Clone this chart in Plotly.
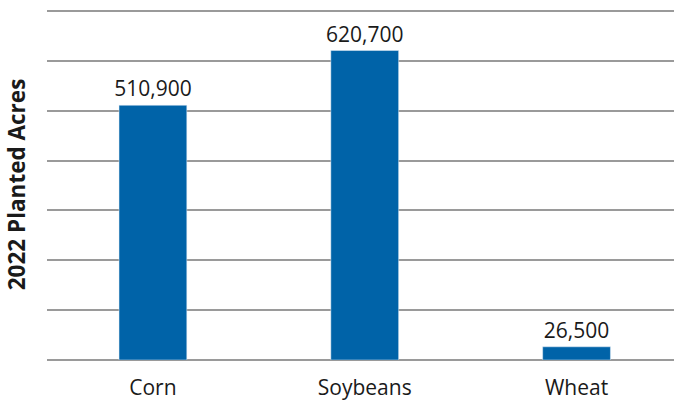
import plotly.graph_objects as go

crops = ["Corn", "Soybeans", "Wheat"]
acres = [510900, 620700, 26500]

fig = go.Figure(go.Bar(
    x=crops,
    y=acres,
    marker=dict(color="#0063a8"),
    width=0.32,
    text=[f"{v:,}" for v in acres],
    textposition="outside",
    constraintext="none",
    textfont=dict(size=21, color="#1a1a1a"),
    cliponaxis=False,
))

fig.update_layout(
    width=674, height=401,
    margin=dict(l=47, r=0, t=9, b=41),
    paper_bgcolor="white",
    plot_bgcolor="white",
    font=dict(family="Open Sans, Noto Sans, sans-serif", color="#1a1a1a"),
    showlegend=False,
)
fig.update_xaxes(
    automargin=False,
    range=[-0.5, 2.46],  # chart is cropped on the right in the original
    tickfont=dict(size=21),
    ticks="outside", ticklen=9, tickcolor="rgba(0,0,0,0)",
    showline=False,
)
fig.update_yaxes(
    automargin=False,
    range=[0, 704000],
    dtick=100000,
    showticklabels=False,
    showgrid=True, gridcolor="#9a9a9a", gridwidth=2,
    zeroline=True, zerolinecolor="#9a9a9a", zerolinewidth=2,
    title=dict(text="<b>2022 Planted Acres</b>", font=dict(size=22.5), standoff=14),
)

# page body has a default 8px margin and a scrollbar gutter; remove both
fig.write_html(
    "out.html",
    config={"displayModeBar": False},
    post_script="document.body.style.margin='0';"
                "document.body.style.overflow='hidden';"
                "document.documentElement.style.overflow='hidden';",
)
